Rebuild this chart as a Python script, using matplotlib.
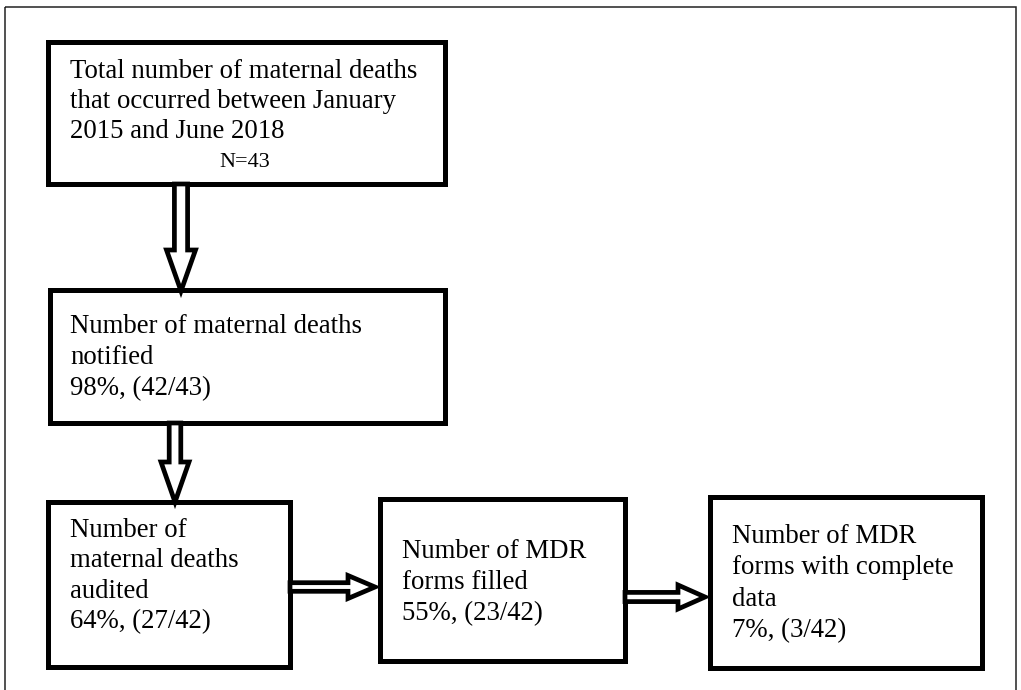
import matplotlib.pyplot as plt
from matplotlib.patches import Rectangle, Polygon

# Datos del diagrama de flujo
total = 43
etapas = ["notified", "audited", "filled", "complete"]
conteos = [42, 27, 23, 3]
denominadores = [43, 42, 42, 42]
titulos = [
    ["Total number of maternal deaths", "that occurred between January", "2015 and June 2018"],
    ["Number of maternal deaths", "notified"],
    ["Number of", "maternal deaths", "audited"],
    ["Number of MDR", "forms filled"],
    ["Number of MDR", "forms with complete", "data"],
]

# Cajas: x0, y0, x1, y1 (pixeles, y hacia abajo)
cajas = [(48, 42, 445, 184), (50, 290, 445, 423), (48, 502, 290, 667),
         (380, 499, 625, 661), (710, 497, 982, 668)]
# Primera linea base y separacion de lineas de cada caja
base_y = [78, 333, 537, 558, 543]
paso = [30, 31, 30.3, 31, 31.5]
texto_x = [70, 70, 70, 402, 732]

plt.rcParams['font.family'] = ['Liberation Serif', 'DejaVu Serif']

fig = plt.figure(figsize=(10.21, 6.90), dpi=100)
ax = fig.add_axes([0, 0, 1, 1])
ax.set_xlim(0, 1021)
ax.set_ylim(690, 0)
ax.axis('off')

# Marco exterior
ax.add_patch(Rectangle((5, 7), 1011, 700, fill=False, lw=1.1, ec='#222222'))

for (x0, y0, x1, y1) in cajas:
    ax.add_patch(Rectangle((x0, y0), x1 - x0, y1 - y0, fill=False, lw=3.6,
                           ec='black', joinstyle='miter', zorder=3))

# Textos
for i, lineas in enumerate(titulos):
    if i > 0:
        pct = round(100 * conteos[i - 1] / denominadores[i - 1])
        lineas = lineas + ["%d%%, (%d/%d)" % (pct, conteos[i - 1], denominadores[i - 1])]
    for j, t in enumerate(lineas):
        ax.text(texto_x[i], base_y[i] + j * paso[i], t, fontsize=19.3,
                va='baseline', ha='left', zorder=4)
ax.text(245, 167, "N=%d" % total, fontsize=16, va='baseline', ha='center', zorder=4)


def flecha_abajo(x, y0, y_cab, y_punta, w, W):
    pts = [(x - w, y0), (x + w, y0), (x + w, y_cab), (x + W, y_cab),
           (x, y_punta), (x - W, y_cab), (x - w, y_cab)]
    ax.add_patch(Polygon(pts, closed=True, fc='white', ec='black', lw=3.4,
                         joinstyle='miter', zorder=5))


def flecha_derecha(y, x0, x_cab, x_punta, w, W):
    pts = [(x0, y - w), (x_cab, y - w), (x_cab, y - W), (x_punta, y),
           (x_cab, y + W), (x_cab, y + w), (x0, y + w)]
    ax.add_patch(Polygon(pts, closed=True, fc='white', ec='black', lw=3.4,
                         joinstyle='miter', zorder=5))


flecha_abajo(181, 184, 250, 291, 6.6, 14.5)
flecha_abajo(175, 423, 462, 502, 5.8, 14)
flecha_derecha(587, 290, 348, 375, 4.3, 11.5)
flecha_derecha(597, 625, 678, 705, 4.6, 12)

fig.savefig('out.png', dpi=100)
